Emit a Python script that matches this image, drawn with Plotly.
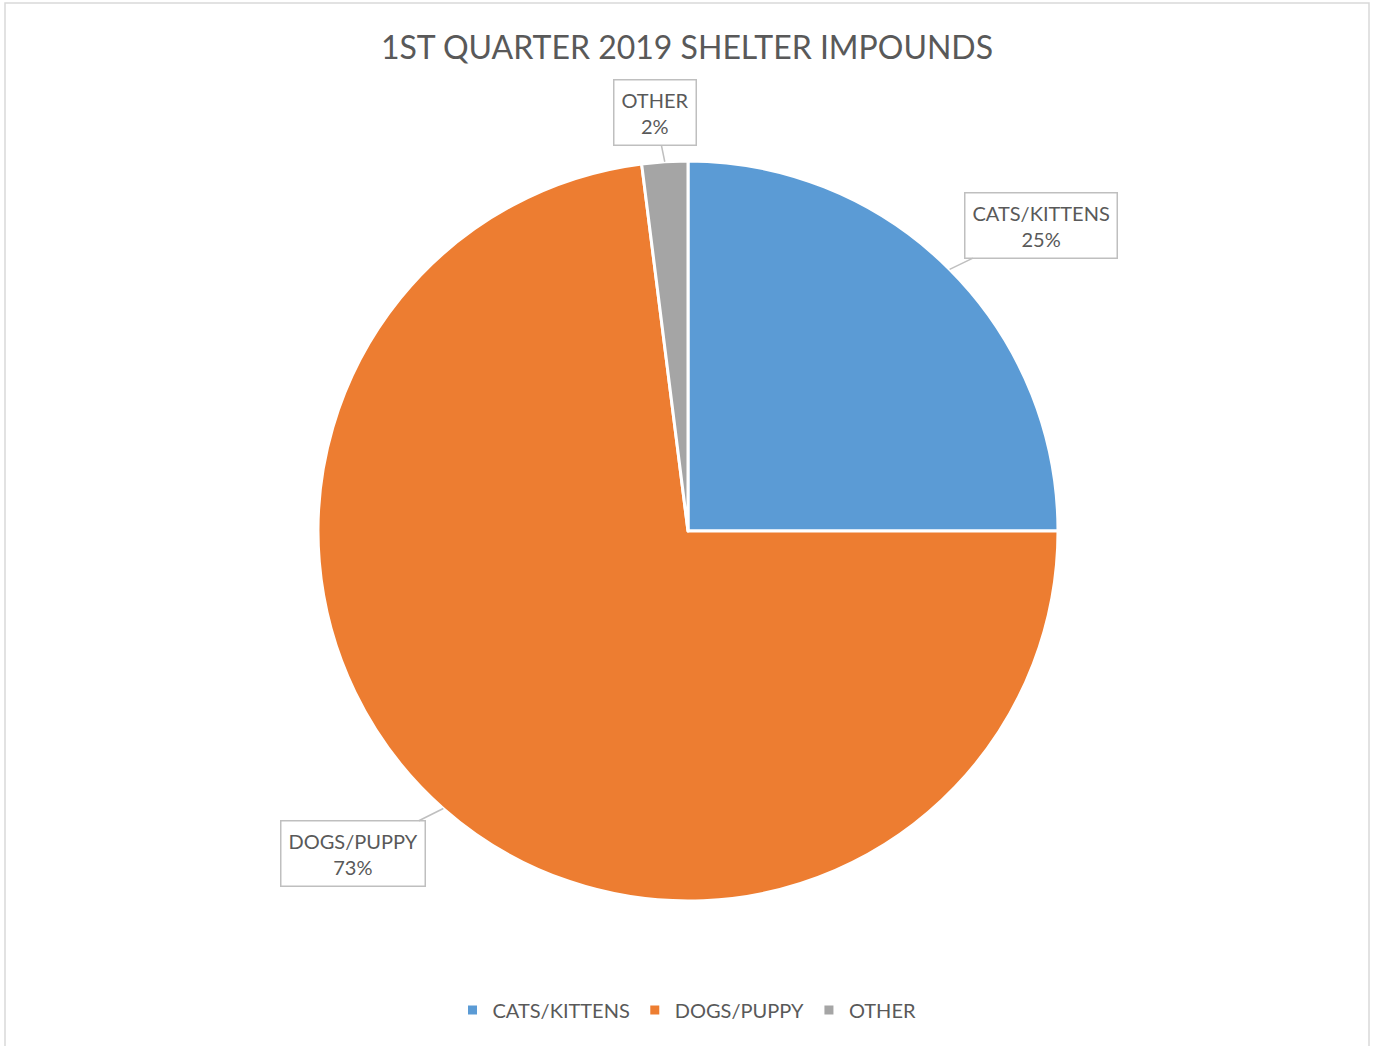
import math
import plotly.graph_objects as go

categories = ["CATS/KITTENS", "DOGS/PUPPY", "OTHER"]
values = [25, 73, 2]
colors = ["#5B9BD5", "#ED7D31", "#A5A5A5"]
title_text = "1ST QUARTER 2019 SHELTER IMPOUNDS"

W, H = 1374, 1046
CX, CY, R = 688, 531, 370  # pie centre / radius in pixels

# label box offsets (pixels, from slice edge point to box centre)
label_offsets = [(91, -44), (-90, 45), (-10, -49)]

TXT = "#595959"
FONT = "Lato"

fig = go.Figure()
fig.add_trace(go.Pie(
    labels=categories,
    values=values,
    marker=dict(colors=colors, line=dict(color="white", width=3)),
    sort=False,
    direction="clockwise",
    rotation=0,
    textinfo="none",
    hoverinfo="label+percent",
    domain=dict(x=[(CX - R) / W, (CX + R) / W],
                y=[1 - (CY + R) / H, 1 - (CY - R) / H]),
))

total = sum(values)
cum = 0
annotations = []
for cat, v, (ox, oy) in zip(categories, values, label_offsets):
    mid = (cum + v / 2) / total * 2 * math.pi
    cum += v
    px = CX + R * math.sin(mid)
    py = CY - R * math.cos(mid)
    annotations.append(dict(
        x=px / W, y=1 - py / H, xref="paper", yref="paper",
        text=f"{cat}<br>{round(v / total * 100)}%",
        showarrow=True, arrowhead=0, arrowwidth=1.5, arrowcolor="#BFBFBF",
        ax=ox, ay=oy, axref="pixel", ayref="pixel",
        bordercolor="#BFBFBF", borderwidth=1.5, borderpad=7,
        bgcolor="white",
        font=dict(family=FONT, size=20, color=TXT),
        align="center",
    ))

fig.update_layout(
    width=W, height=H,
    margin=dict(l=0, r=0, t=0, b=0),
    paper_bgcolor="white",
    plot_bgcolor="white",
    title=dict(text=title_text, x=0.5, xanchor="center", y=1 - 48 / H, yanchor="middle",
               font=dict(family=FONT, size=32, color=TXT)),
    showlegend=True,
    legend=dict(orientation="h", x=0.5, xanchor="center", y=1 - 1010 / H, yanchor="middle",
                font=dict(family=FONT, size=20, color=TXT),
                traceorder="normal"),
    annotations=annotations,
    shapes=[dict(type="rect", xref="paper", yref="paper",
                 x0=5 / W, x1=1369 / W, y0=-0.01, y1=1 - 3 / H,
                 line=dict(color="#D9D9D9", width=1.5), fillcolor="rgba(0,0,0,0)", layer="below")],
)

fig.write_html("out.html", config={"displayModeBar": False},
               post_script="document.body.style.margin='0';")
